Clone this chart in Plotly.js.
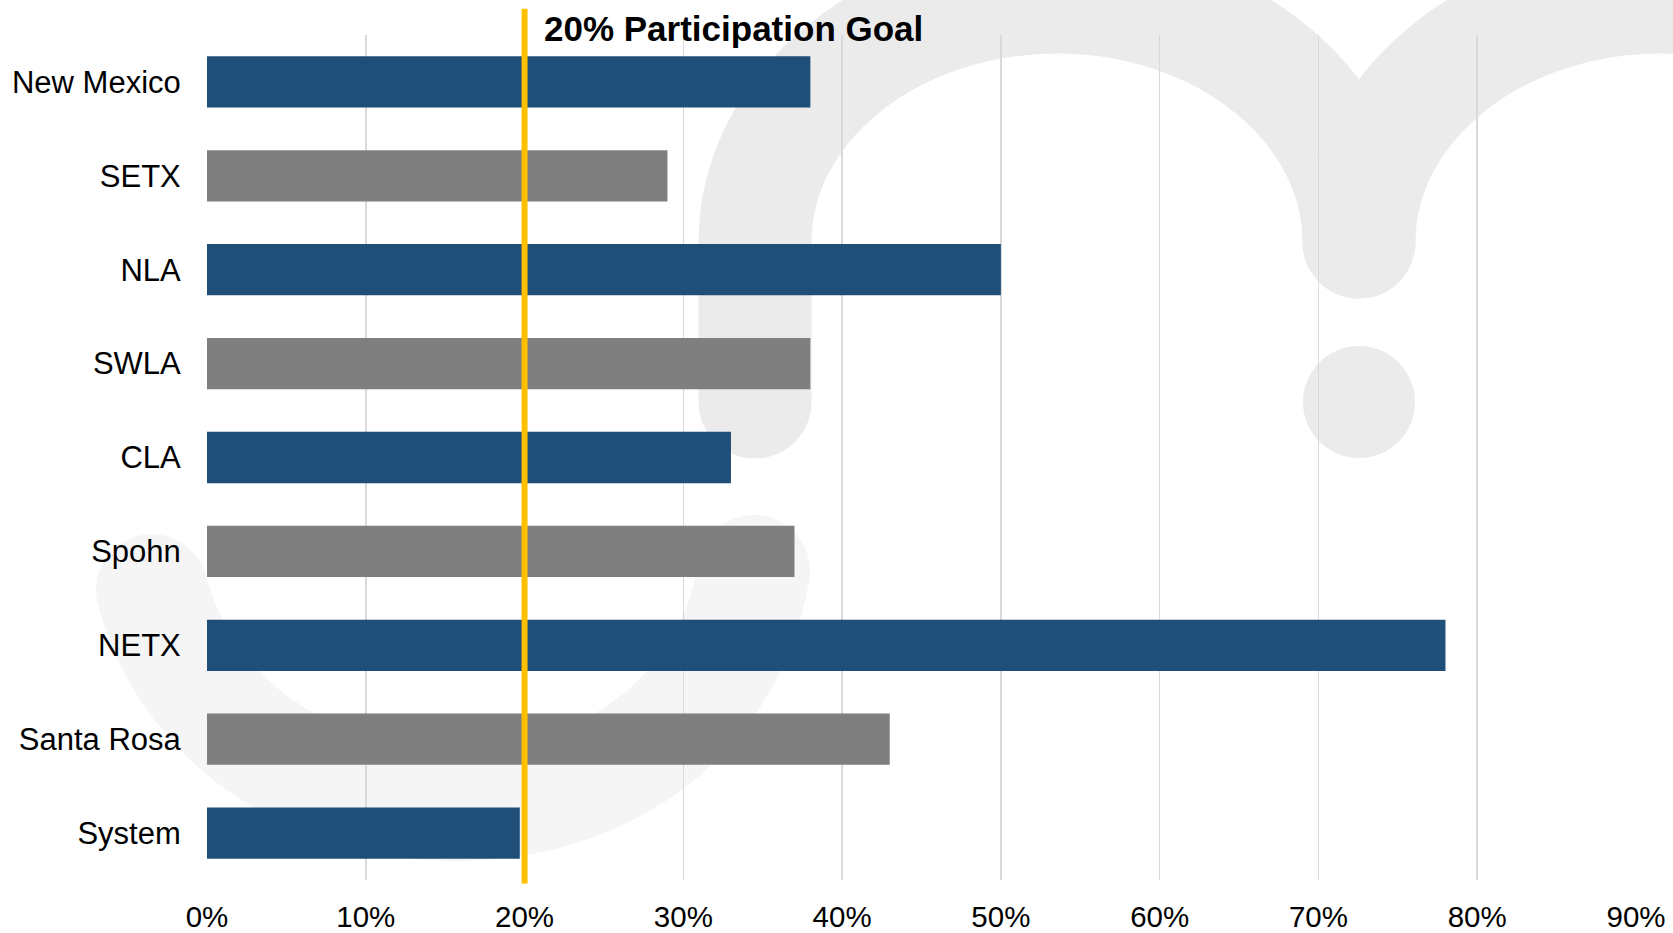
<!DOCTYPE html>
<html>
<head>
<meta charset="utf-8">
<script src="https://cdn.plot.ly/plotly-3.0.1.min.js"></script>
<style>
  html, body { margin: 0; padding: 0; background: #ffffff; }
  #wrap { position: relative; width: 1673px; height: 933px; overflow: hidden; }
  #bg { position: absolute; left: 0; top: 0; }
  #chart { position: absolute; left: 0; top: 0; width: 1673px; height: 933px; }
</style>
</head>
<body>
<div id="wrap">
  <svg id="bg" width="1673" height="933" viewBox="0 0 1673 933" xmlns="http://www.w3.org/2000/svg">
    <g fill="none" stroke-linecap="round">
      <path d="M 152 590 C 230 880, 700 880, 754 571" stroke="#f5f5f5" stroke-width="112"/>
      <path d="M 755 402 L 755 242 A 302 245 0 0 1 1359 242" stroke="#ebebeb" stroke-width="113"/>
      <path d="M 1359 242 A 302 245 0 0 1 1963 242" stroke="#ebebeb" stroke-width="113"/>
    </g>
    <circle cx="1359" cy="402" r="56" fill="#ebebeb"/>
  </svg>
  <div id="chart"></div>
</div>
<script>
const categories = ["New Mexico", "SETX", "NLA", "SWLA", "CLA", "Spohn", "NETX", "Santa Rosa", "System"];
const participation = [0.38, 0.29, 0.50, 0.38, 0.33, 0.37, 0.78, 0.43, 0.197];
const barColors = ["#1f4e79", "#7f7f7f", "#1f4e79", "#7f7f7f", "#1f4e79", "#7f7f7f", "#1f4e79", "#7f7f7f", "#1f4e79"];
const goalValue = 0.20;
const goalLabel = "20% Participation Goal";
const tickValues = [0, 0.1, 0.2, 0.3, 0.4, 0.5, 0.6, 0.7, 0.8, 0.9];
const tickLabels = ["0%", "10%", "20%", "30%", "40%", "50%", "60%", "70%", "80%", "90%"];

const font = "Liberation Sans, Arial, sans-serif";

const trace = {
  type: "bar",
  orientation: "h",
  y: categories,
  x: participation,
  marker: { color: barColors, line: { width: 0 } },
  hoverinfo: "skip"
};

const layout = {
  width: 1673,
  height: 933,
  margin: { l: 207, r: 37, t: 35, b: 53 },
  paper_bgcolor: "rgba(0,0,0,0)",
  plot_bgcolor: "rgba(0,0,0,0)",
  bargap: 0.454,
  showlegend: false,
  font: { family: font, color: "#000000" },
  xaxis: {
    range: [0, 0.9],
    tickvals: tickValues,
    ticktext: tickLabels,
    tickfont: { family: font, size: 29.5, color: "#000000" },
    showgrid: true,
    gridcolor: "#d9d9d9",
    gridwidth: 1.5,
    zeroline: false,
    showline: false,
    ticks: "outside",
    ticklen: 11,
    tickcolor: "rgba(0,0,0,0)",
    fixedrange: true
  },
  yaxis: {
    categoryorder: "array",
    categoryarray: categories,
    autorange: "reversed",
    tickfont: { family: font, size: 31, color: "#000000" },
    showgrid: false,
    zeroline: false,
    showline: false,
    ticks: "outside",
    ticklen: 19,
    tickcolor: "rgba(0,0,0,0)",
    fixedrange: true
  },
  shapes: [
    {
      type: "line",
      xref: "x", yref: "paper",
      x0: goalValue, x1: goalValue,
      y0: -0.004, y1: 1.031,
      line: { color: "#ffc000", width: 6 }
    }
  ],
  annotations: [
    {
      xref: "x", yref: "paper",
      x: goalValue, y: 1.008,
      xanchor: "left", yanchor: "middle",
      xshift: 17,
      showarrow: false,
      text: "<b>" + goalLabel + "</b>",
      font: { family: font, size: 35, color: "#000000" }
    }
  ]
};

Plotly.newPlot("chart", [trace], layout, { displayModeBar: false, staticPlot: true });
</script>
</body>
</html>
